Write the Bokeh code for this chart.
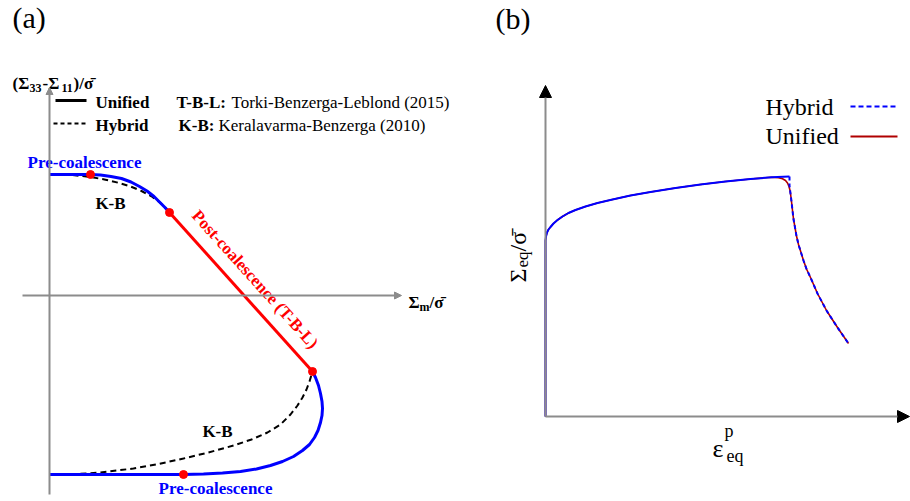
import numpy as np
from bokeh.plotting import figure
from bokeh.layouts import row
from bokeh.models import Range1d, Arrow, NormalHead
from bokeh.core.properties import value
from bokeh.embed import file_html
from bokeh.resources import INLINE

SERIF = value("'Liberation Serif', 'Times New Roman', 'DejaVu Serif', serif")

# ---------------- (a) yield surface schematic ----------------
# Sigma_m / sigma_bar (x) and (Sigma33 - Sigma11) / sigma_bar (y)
unified_top_x = [0.0, 0.41, 0.51, 0.615, 0.72, 0.815, 0.90, 0.975, 1.045, 1.105, 1.155, 1.20]
unified_top_y = [1.21, 1.21, 1.205, 1.19, 1.17, 1.135, 1.09, 1.045, 0.99, 0.93, 0.88, 0.83]

post_coal_x = [1.20, 2.63]
post_coal_y = [0.83, -0.76]

unified_bot_x = [2.63, 2.66, 2.69, 2.71, 2.725, 2.73, 2.725, 2.71, 2.685, 2.65, 2.60, 2.53, 2.44,
                 2.33, 2.21, 2.07, 1.91, 1.73, 1.54, 1.34, 0.0]
unified_bot_y = [-0.76, -0.82, -0.90, -0.98, -1.06, -1.13, -1.20, -1.27, -1.35, -1.42, -1.49, -1.55,
                 -1.61, -1.66, -1.70, -1.735, -1.76, -1.775, -1.785, -1.79, -1.79]

hybrid_top_x = [0.13, 0.23, 0.33, 0.44, 0.56, 0.69, 0.81, 0.92, 1.02, 1.11, 1.155, 1.20]
hybrid_top_y = [1.21, 1.204, 1.194, 1.18, 1.158, 1.127, 1.09, 1.045, 0.992, 0.925, 0.88, 0.83]

hybrid_bot_x = [0.21, 0.51, 0.84, 1.09, 1.34, 1.59, 1.84, 2.02, 2.18, 2.31, 2.41, 2.48, 2.53, 2.57,
                2.60, 2.63]
hybrid_bot_y = [-1.79, -1.77, -1.73, -1.685, -1.63, -1.57, -1.50, -1.44, -1.37, -1.29, -1.19, -1.10,
                -1.02, -0.94, -0.86, -0.76]

transition_x = [0.41, 1.20, 2.63, 1.34]
transition_y = [1.21, 0.83, -0.76, -1.79]

# ---------------- (b) stress-strain schematic ----------------
hard_eps = [0.0, 0.0, 0.005, 0.015, 0.03, 0.05, 0.08, 0.12, 0.17, 0.23, 0.30, 0.40, 0.52, 0.67,
            0.85, 1.05, 1.30, 1.55, 1.80, 2.05, 2.26, 2.44]
hard_sig = [0.0, 1.76, 1.80, 1.84, 1.87, 1.895, 1.93, 1.965, 2.0, 2.035, 2.065, 2.10, 2.135, 2.17,
            2.21, 2.245, 2.285, 2.32, 2.35, 2.375, 2.392, 2.40]

# common softening branch after coalescence
drop_eps = [2.45, 2.46, 2.47, 2.48, 2.495, 2.51, 2.53, 2.555, 2.58, 2.61, 2.65, 2.685, 2.72, 2.765,
            2.81, 2.865, 2.92, 2.975, 3.03]
drop_sig = [2.23, 2.15, 2.06, 1.975, 1.89, 1.805, 1.72, 1.64, 1.56, 1.475, 1.39, 1.31, 1.23, 1.145,
            1.06, 0.975, 0.89, 0.81, 0.73]

# hybrid: sharp switch at the onset of coalescence
hybrid_corner_eps = [2.44, 2.44]
hybrid_corner_sig = [2.40, 2.31]

# unified: smooth transition
unified_corner_eps = [2.33, 2.37, 2.40, 2.42, 2.435, 2.445]
unified_corner_sig = [2.388, 2.377, 2.36, 2.335, 2.30, 2.26]

BLUE = "#0000ff"
RED = "#ff0000"
DARKRED = "#b00000"
GREY = "#8c8c8c"


def bare(p):
    p.grid.visible = False
    p.outline_line_color = None
    p.background_fill_color = "white"
    p.border_fill_color = "white"


def txt(p, x, y, s, size, bold=False, color="black", align="left", baseline="middle", angle=0.0):
    p.text(x=[x], y=[y], text=[s], text_font=SERIF, text_font_size=f"{size}px",
           text_font_style="bold" if bold else "normal", text_color=color,
           text_align=align, text_baseline=baseline, angle=angle)


fa = figure(width=460, height=501, x_range=Range1d(-0.49, 4.11), y_range=Range1d(-2.06, 2.95),
            output_backend="svg", toolbar_location=None, x_axis_type=None, y_axis_type=None,
            min_border=0)
bare(fa)

# axes drawn as arrows through the origin
fa.add_layout(Arrow(end=NormalHead(size=7, fill_color=GREY, line_color=GREY),
                    x_start=0, y_start=-1.99, x_end=0, y_end=2.08, line_color=GREY, line_width=2))
fa.add_layout(Arrow(end=NormalHead(size=7, fill_color=GREY, line_color=GREY),
                    x_start=-0.27, y_start=0, x_end=3.52, y_end=0, line_color=GREY, line_width=2))

fa.line(hybrid_top_x, hybrid_top_y, line_color="black", line_width=2, line_dash="6 4")
fa.line(hybrid_bot_x, hybrid_bot_y, line_color="black", line_width=2, line_dash="6 4")
fa.line(unified_top_x, unified_top_y, line_color=BLUE, line_width=3)
fa.line(unified_bot_x, unified_bot_y, line_color=BLUE, line_width=3)
fa.line(post_coal_x, post_coal_y, line_color=RED, line_width=3)
fa.scatter(transition_x, transition_y, size=8, color=RED)

# labels on the surface
txt(fa, 0.35, 1.33, "Pre-coalescence", 17, True, BLUE, align="center")
txt(fa, 1.66, -1.93, "Pre-coalescence", 17, True, BLUE, align="center")
txt(fa, 0.61, 0.92, "K-B", 17, True, align="center")
txt(fa, 1.68, -1.36, "K-B", 17, True, align="center")

mx = (post_coal_x[0] + post_coal_x[1]) / 2
my = (post_coal_y[0] + post_coal_y[1]) / 2
ang = np.arctan2(post_coal_y[1] - post_coal_y[0], post_coal_x[1] - post_coal_x[0])
off = 0.19
txt(fa, mx - off * np.sin(ang), my + off * np.cos(ang), "Post-coalescence (T-B-L)", 17, True, RED,
    align="center", angle=ang)

# legend
fa.line([0.06, 0.37], [1.95, 1.95], line_color="black", line_width=3)
fa.line([0.04, 0.39], [1.72, 1.72], line_color="black", line_width=2, line_dash="4 3")
txt(fa, 0.46, 1.93, "Unified", 17, True)
txt(fa, 0.46, 1.70, "Hybrid", 17, True)
txt(fa, 1.27, 1.93, "T-B-L:", 17, True)
txt(fa, 1.82, 1.93, "Torki-Benzerga-Leblond (2015)", 17)
txt(fa, 1.29, 1.70, "K-B:", 17, True)
txt(fa, 1.69, 1.70, "Keralavarma-Benzerga (2010)", 17)

# axis titles
txt(fa, -0.37, 2.12, "(Σ", 17, True, baseline="alphabetic")
txt(fa, -0.20, 2.08, "33", 12, True, baseline="alphabetic")
txt(fa, -0.07, 2.12, "-Σ", 17, True, baseline="alphabetic")
txt(fa, 0.12, 2.08, "11", 12, True, baseline="alphabetic")
txt(fa, 0.24, 2.12, ")/σ\u0304", 17, True, baseline="alphabetic")

txt(fa, 3.59, -0.07, "Σ", 17, True, baseline="alphabetic")
txt(fa, 3.70, -0.11, "m", 12, True, baseline="alphabetic")
txt(fa, 3.80, -0.07, "/σ\u0304", 17, True, baseline="alphabetic")

txt(fa, -0.37, 2.78, "(a)", 30)

# ---------------- panel (b) ----------------
fb = figure(width=450, height=501, x_range=Range1d(-0.85, 3.65), y_range=Range1d(-0.85, 4.16),
            output_backend="svg", toolbar_location=None, x_axis_type=None, y_axis_type=None,
            min_border=0)
bare(fb)

fb.add_layout(Arrow(end=NormalHead(size=12, fill_color="black", line_color="black"),
                    x_start=0, y_start=0, x_end=0, y_end=3.31, line_color=GREY, line_width=2))
fb.add_layout(Arrow(end=NormalHead(size=12, fill_color="black", line_color="black"),
                    x_start=0, y_start=0, x_end=3.64, y_end=0, line_color=GREY, line_width=2))

fb.line(hard_eps[:-1] + unified_corner_eps + drop_eps, hard_sig[:-1] + unified_corner_sig + drop_sig,
        line_color=DARKRED, line_width=1.6)
fb.line(hard_eps, hard_sig, line_color=BLUE, line_width=2)
fb.line(hybrid_corner_eps + drop_eps, hybrid_corner_sig + drop_sig, line_color=BLUE, line_width=2,
        line_dash="4 3")

txt(fb, 2.20, 3.10, "Hybrid", 24)
txt(fb, 2.20, 2.81, "Unified", 24)
fb.line([3.05, 3.50], [3.10, 3.10], line_color=BLUE, line_width=2, line_dash="5 3")
fb.line([3.05, 3.52], [2.80, 2.80], line_color=DARKRED, line_width=2)

# axis titles
txt(fb, -0.28, 1.34, "Σ", 24, baseline="alphabetic", angle=np.pi / 2)
txt(fb, -0.23, 1.49, "eq", 17, baseline="alphabetic", angle=np.pi / 2)
txt(fb, -0.28, 1.65, "/σ\u0304", 24, baseline="alphabetic", angle=np.pi / 2)

txt(fb, 1.67, -0.32, "ε", 26, baseline="alphabetic")
txt(fb, 1.79, -0.14, "p", 18, baseline="alphabetic")
txt(fb, 1.81, -0.39, "eq", 18, baseline="alphabetic")

txt(fb, -0.50, 3.98, "(b)", 30)

layout = row(fa, fb)
open("out.html", "w").write(file_html(layout, INLINE))
